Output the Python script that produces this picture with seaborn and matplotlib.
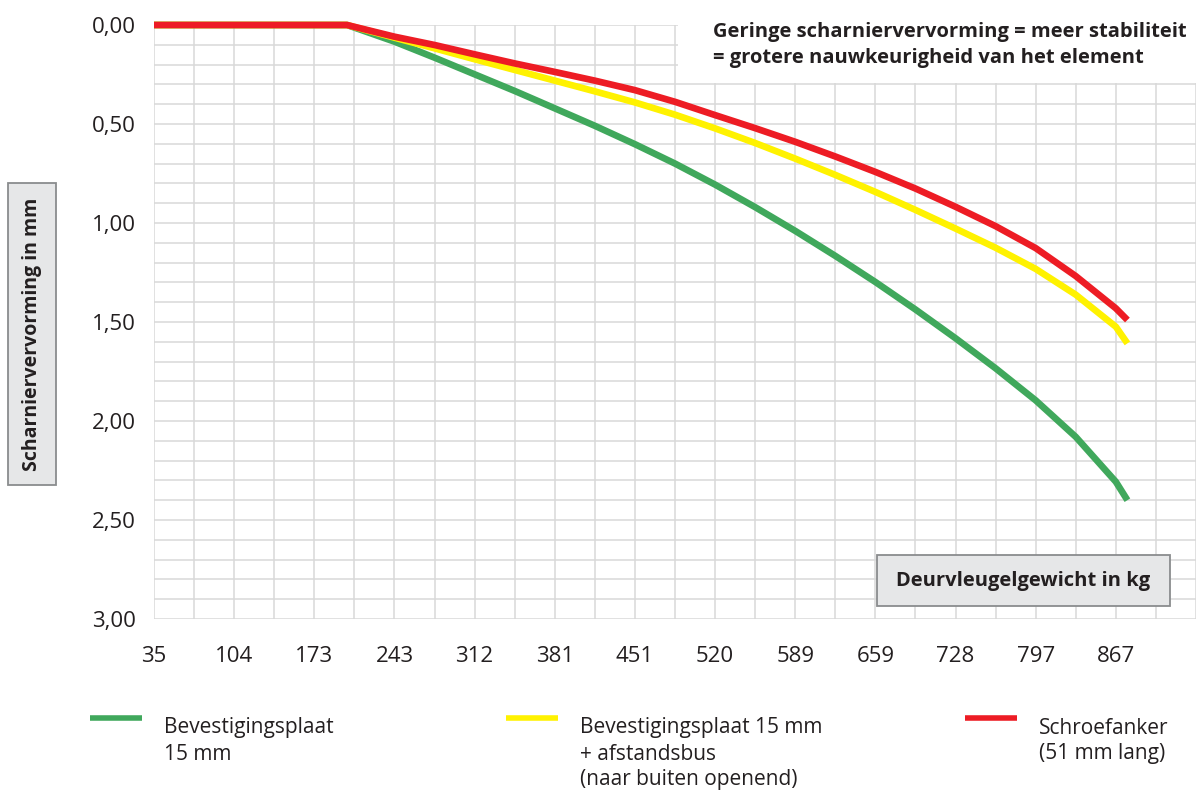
import pandas as pd
import seaborn as sns
import matplotlib.pyplot as plt
from matplotlib.patches import Rectangle
from matplotlib.lines import Line2D

# gewicht (kg) en scharniervervorming (mm)
gewicht = [35, 202, 243, 277.7, 312.3, 347, 381.7, 416.3, 451, 485.7, 520.3, 555,
           589.7, 624.3, 659, 693.7, 728.3, 763, 797.7, 832.3, 867, 877]
plaat = [0, 0, 0.084, 0.165, 0.249, 0.333, 0.421, 0.509, 0.602, 0.700, 0.806, 0.920,
         1.040, 1.166, 1.298, 1.437, 1.582, 1.734, 1.896, 2.08, 2.307, 2.40]
plaat_bus = [0, 0, 0.064, 0.118, 0.173, 0.227, 0.281, 0.335, 0.391, 0.453, 0.522, 0.596,
             0.675, 0.757, 0.843, 0.934, 1.028, 1.125, 1.232, 1.362, 1.524, 1.608]
schroef = [0, 0, 0.059, 0.101, 0.148, 0.194, 0.237, 0.281, 0.329, 0.388, 0.455, 0.521,
           0.590, 0.664, 0.742, 0.826, 0.918, 1.016, 1.127, 1.268, 1.431, 1.49]

series = ['plaat', 'plaat_bus', 'schroef']
kleuren = {'plaat': '#40a85c', 'plaat_bus': '#fff200', 'schroef': '#ed1c24'}

x_ticks = [35 + 69.333 * k for k in range(13)]
x_labels = ['35', '104', '173', '243', '312', '381', '451', '520', '589', '659', '728', '797', '867']
y_ticks = [0, 0.5, 1.0, 1.5, 2.0, 2.5, 3.0]
y_labels = ['0,00', '0,50', '1,00', '1,50', '2,00', '2,50', '3,00']

legend_labels = [
    ['Bevestigingsplaat', '15 mm'],
    ['Bevestigingsplaat 15 mm', '+ afstandsbus', '(naar buiten openend)'],
    ['Schroefanker', '(51 mm lang)'],
]
notitie = ['Geringe scharniervervorming = meer stabiliteit',
           '= grotere nauwkeurigheid van het element']

df = pd.DataFrame({
    'kg': gewicht * 3,
    'mm': plaat + plaat_bus + schroef,
    'serie': [s for s in series for _ in gewicht],
})

sns.set_style('white')
plt.rcParams['font.family'] = ['Open Sans', 'DejaVu Sans']
tekst = '#231f20'
grid = '#d9d9d9'

W, H = 1199, 794
fig = plt.figure(figsize=(W / 100, H / 100), dpi=100)
ax = fig.add_axes([154 / W, 1 - 619 / H, (1196 - 154) / W, (619 - 25) / H])

sns.lineplot(data=df, x='kg', y='mm', hue='serie', hue_order=series, palette=kleuren,
             linewidth=4.8, legend=False, ax=ax, clip_on=False, solid_capstyle='butt')

ax.set_xlim(35, 35 + 13 * 69.333)
ax.set_ylim(3.0, 0.0)
ax.set_xticks(x_ticks)
ax.set_xticklabels(x_labels)
ax.set_xticks([35 + 34.6667 * k for k in range(1, 27, 2)] + [35 + 13 * 69.333], minor=True)
ax.set_yticks(y_ticks)
ax.set_yticklabels(y_labels)
ax.set_yticks([k / 10 for k in range(31)], minor=True)

ax.grid(True, which='both', color=grid, linewidth=1.1)
ax.set_axisbelow(True)
for s in ax.spines.values():
    s.set_visible(False)
ax.tick_params(axis='x', which='major', length=8.5, width=1.1, color=grid, pad=11,
               labelsize=16, labelcolor=tekst)
ax.tick_params(axis='y', which='major', length=8, width=1.1, color=grid, pad=5,
               labelsize=16, labelcolor=tekst)
ax.tick_params(which='minor', length=0)
ax.set_xlabel('')
ax.set_ylabel('')

# witte achtergrond voor de notitie
fig.add_artist(Rectangle((678 / W, 1 - 83 / H), (W - 678) / W, 83 / H,
                         transform=fig.transFigure, facecolor='white', edgecolor='none'))
for i, regel in enumerate(notitie):
    fig.text(713 / W, 1 - (32 + 26 * i) / H, regel, ha='left', va='center',
             fontsize=14.5, fontweight='bold', color=tekst)

# as-titels in grijze kaders
fig.add_artist(Rectangle((8 / W, 1 - 485 / H), 48 / W, 302 / H, transform=fig.transFigure,
                         facecolor='#e6e7e8', edgecolor='#8a8c8e', linewidth=1.3))
fig.text(32 / W, 1 - 334 / H, 'Scharniervervorming in mm', rotation=90, ha='center',
         va='center', fontsize=14, fontweight='bold', color=tekst)
fig.add_artist(Rectangle((877 / W, 1 - 606 / H), 293 / W, 51 / H, transform=fig.transFigure,
                         facecolor='#e6e7e8', edgecolor='#8a8c8e', linewidth=1.3))
fig.text(1023 / W, 1 - 581 / H, 'Deurvleugelgewicht in kg', ha='center', va='center',
         fontsize=14.5, fontweight='bold', color=tekst)

# legenda
leg_x = [90, 506, 965]
for s, x0, regels in zip(series, leg_x, legend_labels):
    fig.add_artist(Line2D([x0 / W, (x0 + 52) / W], [1 - 718 / H, 1 - 718 / H],
                          transform=fig.transFigure, color=kleuren[s], linewidth=4,
                          solid_capstyle='butt'))
    for i, regel in enumerate(regels):
        fig.text((x0 + 74) / W, 1 - (728 + 26 * i) / H, regel, ha='left', va='center',
                 fontsize=15, color=tekst)

fig.savefig('out.png', dpi=100)
